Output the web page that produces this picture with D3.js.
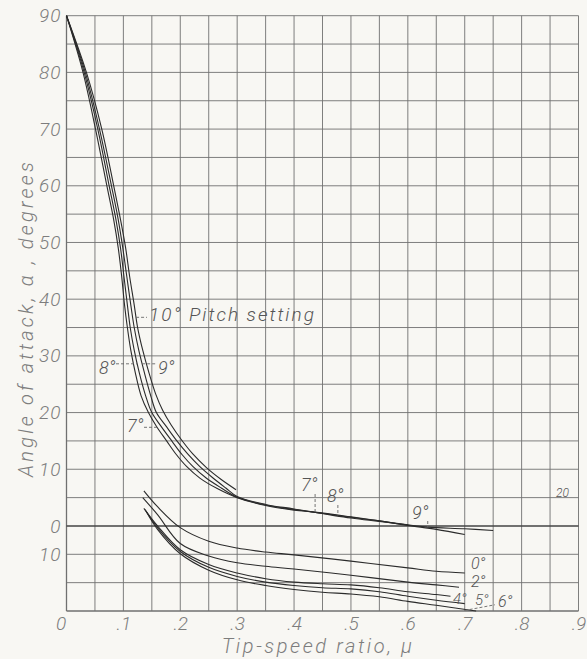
<!DOCTYPE html>
<html><head><meta charset="utf-8">
<script src="https://cdn.jsdelivr.net/npm/d3@7"></script>
<style>body{margin:0;background:#f8f7f3}svg{display:block}</style>
</head><body><svg id="c" width="587" height="659"></svg>
<script>
// ---- data ----
const xTicks=[0,.1,.2,.3,.4,.5,.6,.7,.8,.9];
const xTickLabels=["0",".1",".2",".3",".4",".5",".6",".7",".8",".9"];
const yTicks=[90,80,70,60,50,40,30,20,10,0,-5];
const yTickLabels=["90","80","70","60","50","40","30","20","10","0","10"];
const xGrid=d3.range(0,0.9001,0.05);
const yGrid=d3.range(-15,90.001,5);

// upper family (pitch 7,8,9,10 deg): [mu, alpha]
const pitch7=[[0,90],[0.029,80],[0.051,70],[0.071,60],[0.083,54],[0.091,49],[0.097,44],[0.102,39],[0.107,35],[0.113,31],[0.121,27],[0.131,23],[0.144,20],[0.158,17.6],[0.176,15],[0.193,12.6],[0.211,10.5],[0.235,8.4],[0.265,6.6],[0.3,5.0],[0.35,3.6],[0.4,2.8],[0.44,2.4],[0.5,1.6],[0.55,0.9],[0.6,0.2]];
const pitch8=[[0,90],[0.031,80],[0.055,70],[0.075,60],[0.087,54],[0.095,49],[0.101,44],[0.107,39],[0.112,35],[0.119,31],[0.128,27],[0.139,23],[0.150,20],[0.166,17.6],[0.185,15],[0.203,12.6],[0.222,10.5],[0.245,8.5],[0.272,6.7],[0.3,5.05],[0.35,3.7],[0.4,2.9],[0.48,1.8],[0.55,0.9],[0.6,0.1],[0.65,-0.6],[0.70,-1.5]];
const pitch9=[[0,90],[0.033,80],[0.058,70],[0.079,60],[0.091,54],[0.099,49],[0.106,44],[0.113,39],[0.119,35],[0.127,31],[0.137,27],[0.148,23],[0.158,20],[0.175,17.6],[0.194,15],[0.213,12.7],[0.234,10.5],[0.257,8.5],[0.28,6.7],[0.3,5.2],[0.35,3.8],[0.4,3.0],[0.5,1.4],[0.6,0.2],[0.635,-0.2],[0.7,-0.5],[0.75,-0.8]];
const pitch10=[[0,90],[0.035,80],[0.062,70],[0.083,60],[0.095,54],[0.104,49],[0.111,44],[0.119,39],[0.125,35],[0.134,31],[0.145,27],[0.157,23.2],[0.169,20.4],[0.184,17.8],[0.202,15.2],[0.222,12.7],[0.246,10.3],[0.272,8.2],[0.298,6.4]];

// lower family (pitch 0,2,4,5,6 deg)
const pitch0=[[0.136,6.2],[0.16,3.4],[0.2,-0.3],[0.25,-2.7],[0.3,-3.9],[0.35,-4.6],[0.4,-5.1],[0.5,-6.2],[0.6,-7.4],[0.65,-8.0],[0.7,-8.3]];
const pitch2=[[0.134,5.0],[0.16,2.0],[0.2,-3.1],[0.25,-5.3],[0.3,-6.5],[0.35,-7.1],[0.4,-7.6],[0.5,-8.7],[0.6,-9.9],[0.65,-10.4],[0.69,-10.8]];
const pitch4=[[0.136,3.1],[0.16,0.0],[0.2,-4.2],[0.25,-6.8],[0.3,-8.3],[0.35,-9.3],[0.4,-9.9],[0.45,-10.2],[0.5,-10.4],[0.55,-10.9],[0.6,-11.6],[0.65,-12.1],[0.675,-12.4]];
const pitch5=[[0.138,2.9],[0.16,-0.3],[0.2,-4.5],[0.25,-7.3],[0.3,-8.9],[0.35,-9.9],[0.4,-10.5],[0.45,-10.9],[0.5,-11.1],[0.55,-11.6],[0.6,-12.4],[0.65,-13.1],[0.70,-13.7]];
const pitch6=[[0.14,2.6],[0.16,-0.6],[0.2,-4.9],[0.25,-7.8],[0.3,-9.5],[0.35,-10.5],[0.4,-11.2],[0.45,-11.7],[0.5,-12.0],[0.55,-12.5],[0.6,-13.3],[0.65,-14.0],[0.72,-15.0]];

const curves=[pitch7,pitch8,pitch9,pitch10,pitch0,pitch2,pitch4,pitch5,pitch6];

// ---- layout ----
const svg=d3.select("#c");
const L=66.5,T=15.7,R=578.5,B=611;
const x=d3.scaleLinear().domain([0,0.9]).range([L,R]);
const y=d3.scaleLinear().domain([-15,90]).range([B,T]);
const ink="#2b2b2b", gridC="#707070", textC="#7d7d7d";
const font="Roboto, 'DejaVu Sans', sans-serif";

// grid
const g=svg.append("g");
g.selectAll("line.v").data(xGrid).join("line")
 .attr("x1",d=>x(d)).attr("x2",d=>x(d)).attr("y1",T).attr("y2",B)
 .attr("stroke",gridC).attr("stroke-width",d=>Math.abs(d)<1e-9?1.3:0.9);
g.selectAll("line.h").data(yGrid).join("line")
 .attr("x1",L).attr("x2",R).attr("y1",d=>y(d)).attr("y2",d=>y(d))
 .attr("stroke",d=>d===0?"#444":gridC).attr("stroke-width",d=>(d===0||d===-15)?1.4:0.9);

// axes labels via d3 axes
const xAxis=d3.axisBottom(x).tickValues(xTicks).tickSize(0).tickPadding(5)
 .tickFormat((d,i)=>xTickLabels[i]);
const ax=svg.append("g").attr("transform",`translate(0,${B})`).call(xAxis);
ax.select(".domain").remove();
ax.selectAll("text").attr("font-family",font).attr("font-style","italic").attr("font-weight",300)
 .attr("font-size",19).attr("fill",textC).attr("dy","0.75em");
ax.selectAll("text").filter((d,i)=>i===0).attr("dx",-6);

const yAxis=d3.axisLeft(y).tickValues(yTicks).tickSize(0).tickPadding(5)
 .tickFormat((d,i)=>yTickLabels[i]);
const ay=svg.append("g").attr("transform",`translate(${L},0)`).call(yAxis);
ay.select(".domain").remove();
ay.selectAll("text").attr("font-family",font).attr("font-style","italic").attr("font-weight",300)
 .attr("font-size",19).attr("letter-spacing",1).attr("fill",textC);

// axis titles
svg.append("text").attr("x",318).attr("y",653).attr("text-anchor","middle")
 .attr("font-family",font).attr("font-style","italic").attr("font-weight",300).attr("font-size",20)
 .attr("letter-spacing",2.6).attr("fill",textC).text("Tip-speed ratio, μ");
svg.append("text").attr("transform","translate(33,318) rotate(-90)").attr("text-anchor","middle")
 .attr("font-family",font).attr("font-style","italic").attr("font-weight",300).attr("font-size",20)
 .attr("letter-spacing",3.2).attr("fill",textC).text("Angle of attack, α , degrees");

// curves
const line=d3.line().x(d=>x(d[0])).y(d=>y(d[1])).curve(d3.curveCatmullRom.alpha(0.5));
svg.append("g").selectAll("path").data(curves).join("path")
 .attr("d",line).attr("fill","none").attr("stroke",ink).attr("stroke-width",1.1);

// helpers for leaders
function muAt(c,a){for(let i=0;i<c.length-1;i++){const p=c[i],q=c[i+1];
 if((p[1]-a)*(q[1]-a)<=0){const t=(a-p[1])/(q[1]-p[1]);return p[0]+t*(q[0]-p[0]);}}return c[c.length-1][0];}
function alphaAt(c,m){for(let i=0;i<c.length-1;i++){const p=c[i],q=c[i+1];
 if(m>=p[0]&&m<=q[0]){const t=(m-p[0])/(q[0]-p[0]);return p[1]+t*(q[1]-p[1]);}}return c[c.length-1][1];}

const lab=svg.append("g").attr("font-family",font).attr("font-style","italic").attr("font-weight",300).attr("fill","#555");
function label(txt,px,py,size,ls){lab.append("text").attr("x",px).attr("y",py).attr("font-size",size||17)
 .attr("letter-spacing",ls||0).text(txt);}
function leader(x1,y1,x2,y2){svg.append("line").attr("x1",x1).attr("y1",y1).attr("x2",x2).attr("y2",y2)
 .attr("stroke","#666").attr("stroke-width",0.9).attr("stroke-dasharray","3,2");}

// upper labels
label("10° Pitch setting",149,321,19,2);
leader(x(muAt(pitch10,36.8)),y(36.8),147,y(36.8));
label("8°",99,374,18);
leader(116,y(28.6),x(muAt(pitch8,28.6)),y(28.6));
label("9°",158,374,18);
leader(x(muAt(pitch9,28.6)),y(28.6),156,y(28.6));
label("7°",127,432,18);
leader(144,y(17.4),x(muAt(pitch7,17.4)),y(17.4));
// lower-right labels of upper family
label("7°",301,491,18);
leader(x(0.437),494,x(0.437),y(alphaAt(pitch7,0.437)));
label("8°",327,502,18);
leader(x(0.477),505,x(0.477),y(alphaAt(pitch8,0.477)));
label("9°",412,519,18);
leader(x(0.635),521,x(0.635),y(alphaAt(pitch9,0.635)));
// lower family labels
label("0°",471,569,16);
label("2°",471,587,16);
label("4°",453,604,15);
label("5°",475,605,15);
label("6°",498,607,16);
leader(x(0.70),y(-14.9),495,y(-13.9));
label("20",556,497,12);
</script></body></html>
